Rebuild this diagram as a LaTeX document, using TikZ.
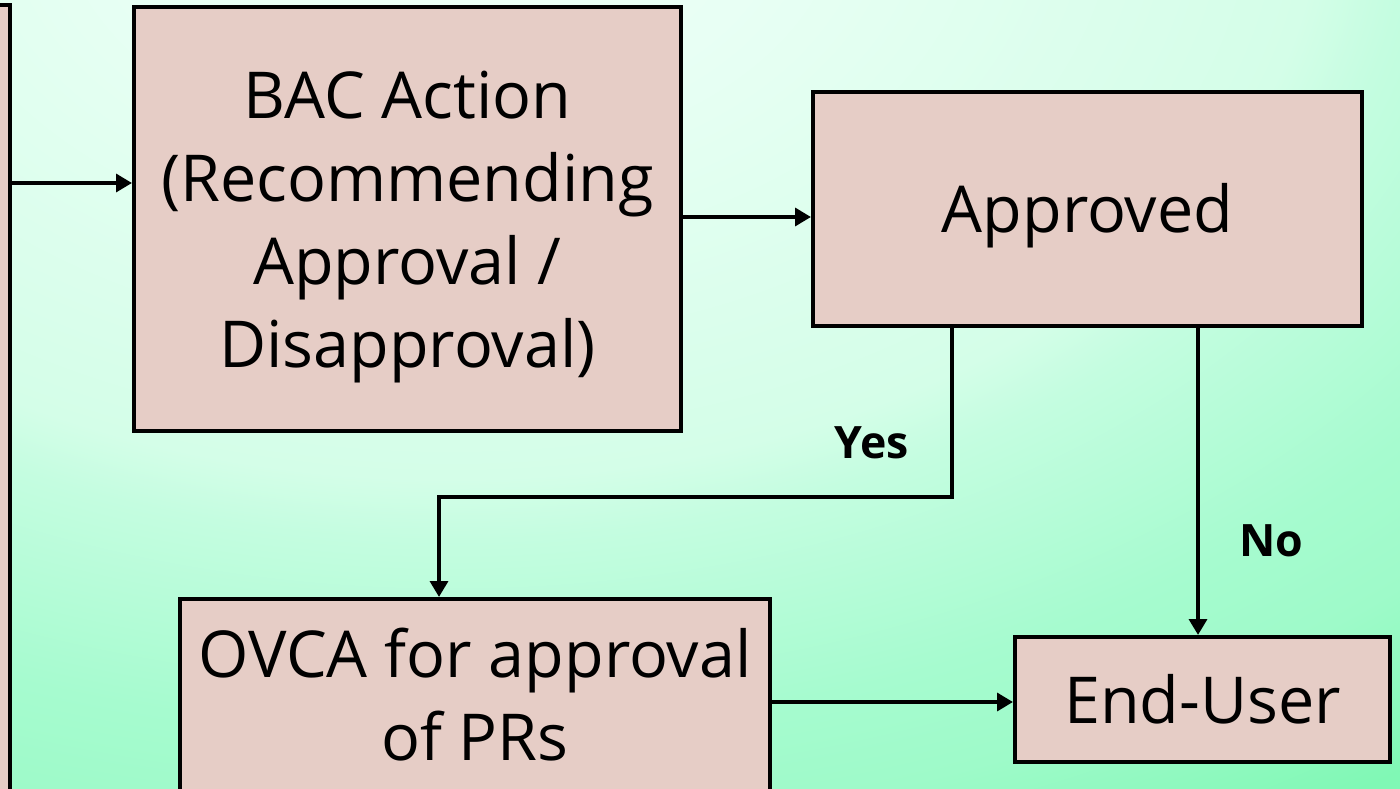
\documentclass[tikz,border=0pt]{standalone}
\usepackage{fontspec}
\setmainfont{Open Sans}
\usetikzlibrary{arrows.meta, positioning}
\definecolor{boxfill}{HTML}{E6CDC6}
\definecolor{glowA}{HTML}{EEFFF8}
\definecolor{glowB}{HTML}{E8FFF4}
\definecolor{glowC}{HTML}{D4FEE8}
\definecolor{glowD}{HTML}{C4FDE0}
\definecolor{glowE}{HTML}{A6FBCF}
\definecolor{glowF}{HTML}{9EFAC9}
\definecolor{glowG}{HTML}{80F8B5}
\pgfdeclareradialshading{mintglow}{\pgfpoint{0bp}{0bp}}{color(0bp)=(glowA); color(92bp)=(glowB); color(246bp)=(glowC); color(272bp)=(glowD); color(354bp)=(glowE); color(397bp)=(glowF); color(458bp)=(glowG); color(510bp)=(glowG)}
\newcommand{\topgap}{\rule{0pt}{18pt}}

\begin{document}
\begin{tikzpicture}[x=0.1mm, y=-0.1mm,
    stage/.style={draw, line width=0.4mm, fill=boxfill, align=center,
        inner sep=0pt, font=\fontsize{18.4}{23.6}\selectfont},
    tag/.style={font=\fontsize{12.7}{15}\selectfont\bfseries},
    arr/.style={line width=0.4mm, -{Triangle[length=4.5pt,width=5pt]}}]
\useasboundingbox (0,0) rectangle (1400,788);
\clip (0,0) rectangle (1400,788);
% Background
\node[inner sep=0pt, yscale=0.6667, transform shape] (glow) at (450,-100) {\pgfuseshading{mintglow}};

% Boxes
\node[stage, minimum width=0.6cm, minimum height=7.95cm] (prev) at (-20,402.5) {};
\node[stage, minimum width=5.47cm, minimum height=4.24cm] (bac) at (407.5,219)
    {\topgap BAC Action\\(Recommending\\Approval /\\Disapproval)};
\node[stage, minimum width=5.49cm, minimum height=2.34cm] (appr) at (1087.5,209) {\topgap Approved};
\node[stage, minimum width=5.9cm, minimum height=1.92cm] (ovca) at (475,695)
    {OVCA for approval\\of PRs};
\node[stage, minimum width=3.75cm, minimum height=1.25cm] (user) at (1202.5,699.5) {End-User};

% Connectors
\draw[arr] (prev.east |- 0,183) -- (bac.west |- 0,183);
\draw[arr] (bac.east |- 0,217) -- (appr.west |- 0,217);
\draw[arr] (appr.south -| 952,0) |- (439,497) -- (ovca.north -| 439,0);
\draw[arr] (appr.south -| 1198,0) -- (user.north -| 1198,0);
\draw[arr] (ovca.east |- 0,702) -- (user.west |- 0,702);

% Labels
\node[tag] (yes) at (872,443) {Yes};
\node[tag] (no) at (1271,541) {No};
\end{tikzpicture}
\end{document}
